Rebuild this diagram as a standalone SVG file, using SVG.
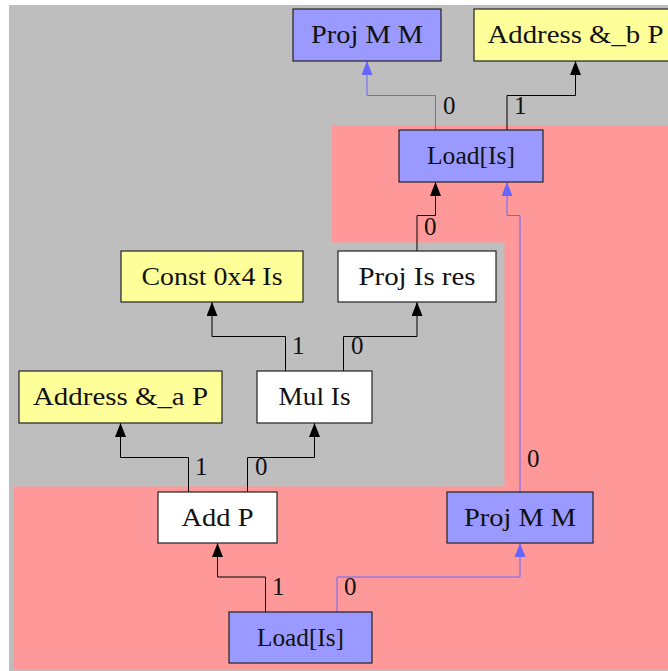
<svg xmlns="http://www.w3.org/2000/svg" width="668" height="671" viewBox="0 0 668 671" font-family="'Liberation Serif', 'Times New Roman', Tinos, 'DejaVu Serif', 'Noto Serif', serif">
  <defs>
    <marker id="ah" viewBox="0 0 14 11" refX="14" refY="5.5" markerWidth="14" markerHeight="11" markerUnits="userSpaceOnUse" orient="auto">
      <path d="M0,0 L14,5.5 L0,11 z" fill="#000"/>
    </marker>
    <marker id="ah-mem" viewBox="0 0 14 11" refX="14" refY="5.5" markerWidth="14" markerHeight="11" markerUnits="userSpaceOnUse" orient="auto">
      <path d="M0,0 L14,5.5 L0,11 z" fill="#6666ff"/>
    </marker>
  </defs>
  <style>
    .node rect { stroke: #222; stroke-width: 1.2; }
    .white rect { fill: #ffffff; }
    .blue rect { fill: #9999ff; }
    .yellow rect { fill: #ffff99; }
    .lbl { font-size: 25px; fill: #111; }
    .node text { text-anchor: middle; }
    .edge { fill: none; stroke: #000; stroke-width: 1; marker-end: url(#ah); }
    .edge.mem { stroke: #6666ff; marker-end: url(#ah-mem); }
  </style>

  <!-- clusters -->
  <rect x="0" y="0" width="668" height="671" fill="#ffffff"/>
  <rect x="9" y="5" width="659" height="666" fill="#bebebe"/>
  <polygon points="332,125 668,125 668,669.5 13,669.5 13,486.5 504.5,486.5 504.5,242.5 332,242.5" fill="#ff9999"/>

  <!-- connectors -->
  <g id="edges">
    <path class="edge mem" d="M435.5,130 V95.5 H367 V61"/>
    <path class="edge" d="M507,130 V95.5 H575.5 V61"/>
    <path class="edge" d="M417,251 V215.5 H435.5 V182"/>
    <path class="edge mem" d="M520,492 V215.5 H507 V182"/>
    <path class="edge" d="M285.5,371 V336.5 H212 V302"/>
    <path class="edge" d="M343.5,371 V336.5 H417 V302"/>
    <path class="edge" d="M188.5,492 V457.5 H120.5 V423"/>
    <path class="edge" d="M247.5,492 V457.5 H314.5 V423"/>
    <path class="edge" d="M265.5,612 V577 H217.5 V543"/>
    <path class="edge mem" d="M337,612 V577 H520 V543"/>
    <g id="edge-labels" class="lbl">
      <text x="443" y="114">0</text>
      <text x="514" y="114">1</text>
      <text x="424" y="235">0</text>
      <text x="527" y="467">0</text>
      <text x="292" y="354">1</text>
      <text x="351" y="354">0</text>
      <text x="195" y="475">1</text>
      <text x="255" y="475">0</text>
      <text x="272" y="595">1</text>
      <text x="344" y="595">0</text>
    </g>
  </g>

  <!-- nodes -->
  <g id="proj_mm_top" class="node blue lbl">
    <rect x="293" y="9" width="148" height="52"/>
    <text x="367" y="43" textLength="112" lengthAdjust="spacingAndGlyphs">Proj M M</text>
  </g>
  <g id="address_b" class="node yellow lbl">
    <rect x="474" y="9" width="203" height="52"/>
    <text x="575.5" y="43" textLength="176" lengthAdjust="spacingAndGlyphs">Address &amp;_b P</text>
  </g>
  <g id="load_top" class="node blue lbl">
    <rect x="399" y="130" width="144" height="52"/>
    <text x="471" y="164" textLength="88" lengthAdjust="spacingAndGlyphs">Load[Is]</text>
  </g>
  <g id="const_4" class="node yellow lbl">
    <rect x="121" y="251" width="182" height="51"/>
    <text x="212" y="284.5" textLength="141" lengthAdjust="spacingAndGlyphs">Const 0x4 Is</text>
  </g>
  <g id="proj_is_res" class="node white lbl">
    <rect x="338" y="251" width="158" height="51"/>
    <text x="417" y="284.5" textLength="117" lengthAdjust="spacingAndGlyphs">Proj Is res</text>
  </g>
  <g id="address_a" class="node yellow lbl">
    <rect x="19" y="371" width="203" height="52"/>
    <text x="120.5" y="405" textLength="175" lengthAdjust="spacingAndGlyphs">Address &amp;_a P</text>
  </g>
  <g id="mul" class="node white lbl">
    <rect x="257" y="371" width="115" height="52"/>
    <text x="314.5" y="405" textLength="72" lengthAdjust="spacingAndGlyphs">Mul Is</text>
  </g>
  <g id="add" class="node white lbl">
    <rect x="158" y="492" width="119" height="51"/>
    <text x="217.5" y="525.5" textLength="72" lengthAdjust="spacingAndGlyphs">Add P</text>
  </g>
  <g id="proj_mm_bottom" class="node blue lbl">
    <rect x="447" y="492" width="146" height="51"/>
    <text x="520" y="525.5" textLength="112" lengthAdjust="spacingAndGlyphs">Proj M M</text>
  </g>
  <g id="load_bottom" class="node blue lbl">
    <rect x="229" y="612" width="143" height="51"/>
    <text x="300.5" y="645.5" textLength="87" lengthAdjust="spacingAndGlyphs">Load[Is]</text>
  </g>
</svg>
